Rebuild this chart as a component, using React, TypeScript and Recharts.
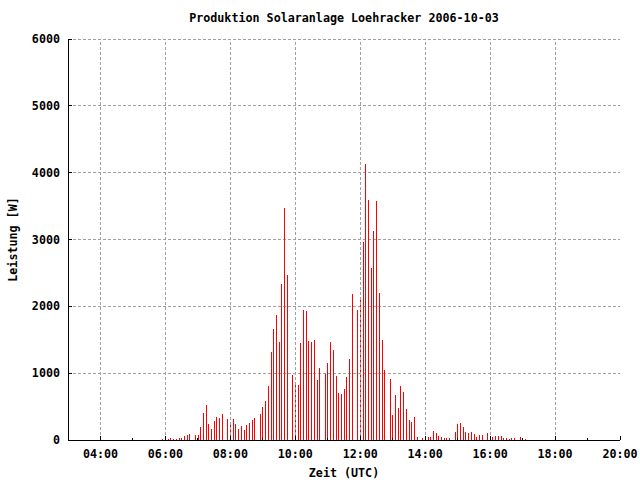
import React from "react";
import { BarChart, Bar, XAxis, YAxis, CartesianGrid, ReferenceLine, Label } from "recharts";

// 5-minute readings (UTC); the :50 readings are missing
const times = [
  "05:55", "06:05", "06:10", "06:15", "06:20", "06:25", "06:30", "06:35", "06:40", "06:45", "06:55",
  "07:00", "07:05", "07:10", "07:15", "07:20", "07:25", "07:30", "07:35", "07:40", "07:45", "07:55",
  "08:00", "08:05", "08:10", "08:15", "08:20", "08:25", "08:30", "08:35", "08:40", "08:45", "08:55",
  "09:00", "09:05", "09:10", "09:15", "09:20", "09:25", "09:30", "09:35", "09:40", "09:45", "09:55",
  "10:00", "10:05", "10:10", "10:15", "10:20", "10:25", "10:30", "10:35", "10:40", "10:45", "10:55",
  "11:00", "11:05", "11:10", "11:15", "11:20", "11:25", "11:30", "11:35", "11:40", "11:45", "11:55",
  "12:00", "12:05", "12:10", "12:15", "12:20", "12:25", "12:30", "12:35", "12:40", "12:45", "12:55",
  "13:00", "13:05", "13:10", "13:15", "13:20", "13:25", "13:30", "13:35", "13:40", "13:45", "13:55",
  "14:05", "14:10", "14:15", "14:20", "14:25", "14:30", "14:35", "14:40", "14:45", "14:55",
  "15:00", "15:05", "15:10", "15:15", "15:20", "15:25", "15:30", "15:35", "15:40", "15:45", "15:55",
  "16:00", "16:05", "16:10", "16:15", "16:20", "16:25", "16:30", "16:35", "16:40", "16:45", "16:55",
  "17:00", "17:05",
];

const watts = [
  20, 20, 35, 20, 20, 35, 35, 55, 80, 95, 80,
  80, 200, 410, 530, 245, 170, 290, 350, 335, 395, 320,
  260, 320, 245, 170, 215, 155, 230, 260, 305, 335, 390,
  500, 585, 810, 1320, 1660, 1870, 1470, 2330, 3470, 2470, 975,
  850, 825, 1450, 1945, 1930, 1480, 1470, 1495, 900, 1075, 990,
  1150, 1470, 1350, 960, 705, 690, 765, 945, 1210, 2185, 1945,
  2140, 2960, 4130, 3590, 2575, 3125, 3575, 2200, 1495, 1045, 915,
  375, 675, 480, 810, 720, 465, 300, 270, 345, 45, 30,
  50, 50, 140, 110, 65, 50, 35, 35, 35, 125,
  245, 260, 200, 125, 110, 125, 95, 50, 80, 80, 110,
  65, 50, 65, 65, 65, 35, 35, 20, 35, 35, 50,
  35, 20,
];

const hourTicks = [4, 5, 6, 7, 8, 9, 10, 11, 12, 13, 14, 15, 16, 17, 18, 19, 20];
const gridHours = [4, 6, 8, 10, 12, 14, 16, 18];
const powerTicks = [0, 1000, 2000, 3000, 4000, 5000, 6000];

const title = "Produktion Solaranlage Loehracker 2006-10-03";
const xTitle = "Zeit (UTC)";
const yTitle = "Leistung [W]";

const FONT = "'DejaVu Sans Mono', monospace";
const GRID = "#a0a0a0";

const data = times.map((t, i) => {
  const [h, m] = t.split(":").map(Number);
  return { hour: h + m / 60, watts: watts[i] };
});

const fmtHour = (h: number) => `${String(h).padStart(2, "0")}:00`;
const isMajor = (h: number) => h % 2 === 0;

function BottomTick({ x, y, payload }: any) {
  const major = isMajor(payload.value);
  return (
    <g>
      <line x1={x} x2={x} y1={y} y2={y - (major ? 4 : 2)} stroke="#000" />
      {major && (
        <text x={x} y={y + 18} textAnchor="middle" fontFamily={FONT} fontWeight="bold" fontSize={11.7} fill="#000">
          {fmtHour(payload.value)}
        </text>
      )}
    </g>
  );
}

function TopTick({ x, y, payload }: any) {
  return <line x1={x} x2={x} y1={y} y2={y + (isMajor(payload.value) ? 4 : 2)} stroke="#000" />;
}

function LeftTick({ x, y, payload }: any) {
  return (
    <g>
      <line x1={x} x2={x + 4} y1={y} y2={y} stroke="#000" />
      <text x={x - 8} y={y + 4} textAnchor="end" fontFamily={FONT} fontWeight="bold" fontSize={11.7} fill="#000">
        {payload.value}
      </text>
    </g>
  );
}

function RightTick({ x, y }: any) {
  return <line x1={x} x2={x - 4} y1={y} y2={y} stroke="#000" />;
}

const Impulse = (p: any) => <rect x={p.x} y={p.y} width={p.width} height={p.height} fill="#ff0000" />;

export default function App() {
  return (
    <div style={{ position: "absolute", left: 0, top: 0, width: 640, height: 480, background: "#fff" }}>
      <div
        style={{
          position: "absolute", left: 0, top: 11, width: 688, textAlign: "center",
          fontFamily: FONT, fontWeight: "bold", fontSize: 11.7, lineHeight: "14px",
        }}
      >
        {title}
      </div>
      <BarChart
        width={640}
        height={480}
        data={data}
        margin={{ top: 39, right: 20, bottom: 0, left: 0 }}
        style={{ shapeRendering: "crispEdges" }}
      >
        <CartesianGrid vertical={false} stroke={GRID} strokeDasharray="3 2" />
        {gridHours.map((h) => (
          <ReferenceLine key={h} x={h} stroke={GRID} strokeDasharray="3 2" />
        ))}
        <XAxis
          dataKey="hour"
          type="number"
          domain={[3, 20]}
          ticks={hourTicks}
          interval={0}
          height={40}
          tickSize={0}
          tickMargin={0}
          tickLine={false}
          axisLine={{ stroke: "#000" }}
          tick={<BottomTick />}
        >
          <Label
            value={xTitle}
            position="insideBottom"
            offset={3}
            style={{ fontFamily: FONT, fontWeight: "bold", fontSize: 11.7, fill: "#000" }}
          />
        </XAxis>
        <XAxis
          xAxisId="top"
          orientation="top"
          dataKey="hour"
          type="number"
          domain={[3, 20]}
          ticks={hourTicks}
          interval={0}
          height={0}
          tickSize={0}
          tickMargin={0}
          tickLine={false}
          axisLine={{ stroke: "#000" }}
          tick={<TopTick />}
        />
        <YAxis
          type="number"
          domain={[0, 6000]}
          ticks={powerTicks}
          interval={0}
          width={68}
          tickSize={0}
          tickMargin={0}
          tickLine={false}
          axisLine={{ stroke: "#000" }}
          tick={<LeftTick />}
        >
          <Label
            value={yTitle}
            angle={-90}
            position="insideLeft"
            offset={13}
            style={{ fontFamily: FONT, fontWeight: "bold", fontSize: 11.7, fill: "#000", textAnchor: "middle" }}
          />
        </YAxis>
        <YAxis
          yAxisId="right"
          orientation="right"
          type="number"
          domain={[0, 6000]}
          ticks={powerTicks}
          interval={0}
          width={0}
          tickSize={0}
          tickMargin={0}
          tickLine={false}
          axisLine={{ stroke: "#000" }}
          tick={<RightTick />}
        />
        <Bar dataKey="watts" barSize={1} shape={Impulse} isAnimationActive={false} />
      </BarChart>
    </div>
  );
}
